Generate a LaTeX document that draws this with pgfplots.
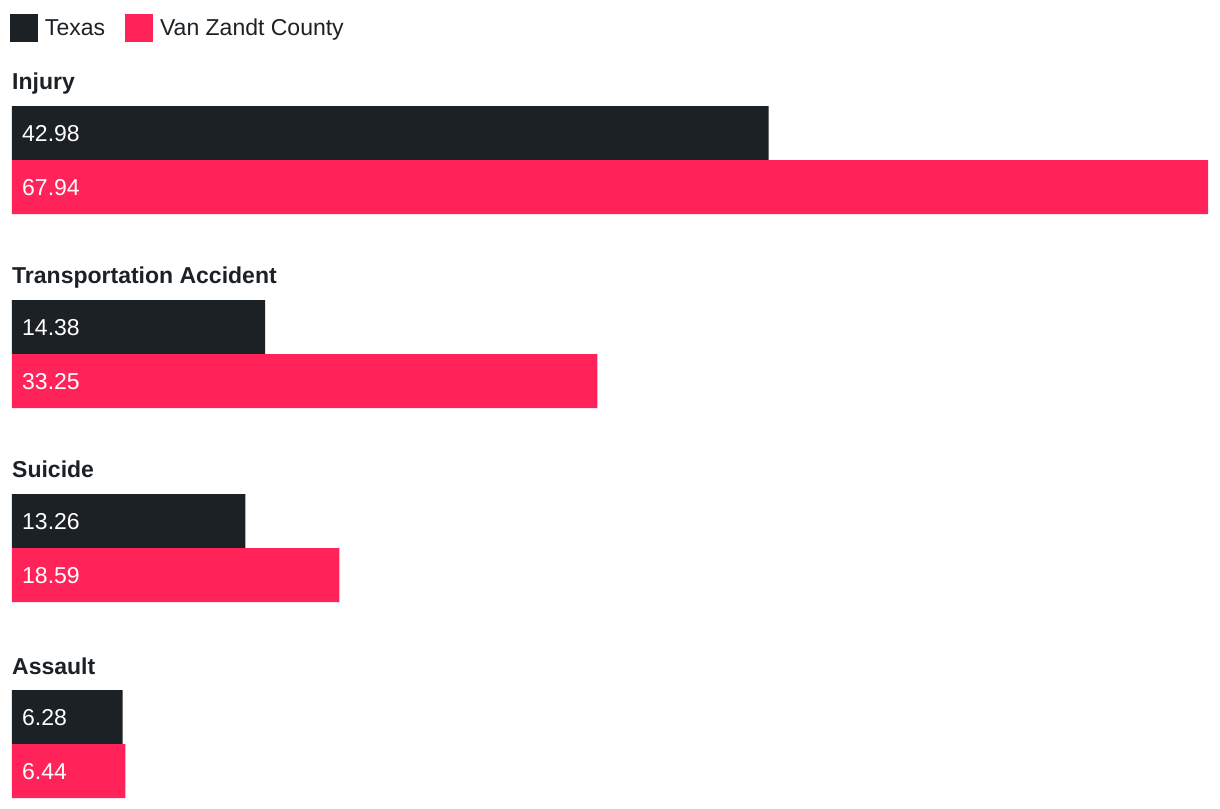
\documentclass[border=0pt]{standalone}
\usepackage{pgfplots}
\pgfplotsset{compat=1.18}
\usepackage{fontspec}
\setmainfont{Liberation Sans}
\definecolor{darkbar}{RGB}{28,33,37}
\definecolor{pinkbar}{RGB}{255,35,90}
\begin{document}
\begin{tikzpicture}
\begin{axis}[
  width=1196pt, height=808pt, scale only axis,
  xmin=0, xmax=67.94, ymin=0, ymax=808, y dir=reverse,
  hide axis, clip=false,
  xbar, bar width=54, bar shift=0pt,
  legend columns=2,
  legend cell align=left,
  legend style={draw=none, fill=none, at={(axis cs:0,28)}, anchor=west, xshift=-2pt,
    font=\fontsize{23}{27.6}\selectfont, text=darkbar, inner sep=0pt, outer sep=0pt,
    nodes={inner sep=0pt},
    /tikz/every odd column/.style={column sep=7pt},
    /tikz/every even column/.style={column sep=20pt}},
  legend image code/.code={\fill[#1] (0pt,-14pt) rectangle (28pt,14pt);},
]
\addplot[fill=darkbar, draw=none] coordinates {(42.98,133) (14.38,327) (13.26,521) (6.28,717)};
\addlegendentry{Texas}
\addplot[fill=pinkbar, draw=none] coordinates {(67.94,187) (33.25,381) (18.59,575) (6.44,771)};
\addlegendentry{Van Zandt County}

\begin{scope}[every node/.style={inner sep=0pt, font=\fontsize{23}{27.6}\selectfont}]
\node[anchor=base west, text=darkbar, font=\fontsize{23}{27.6}\selectfont\bfseries] at (axis cs:0,89.3) {Injury};
\node[anchor=base west, text=darkbar, font=\fontsize{23}{27.6}\selectfont\bfseries] at (axis cs:0,283.3) {Transportation Accident};
\node[anchor=base west, text=darkbar, font=\fontsize{23}{27.6}\selectfont\bfseries] at (axis cs:0,477.3) {Suicide};
\node[anchor=base west, text=darkbar, font=\fontsize{23}{27.6}\selectfont\bfseries] at (axis cs:0,674.3) {Assault};

\node[anchor=base west, text=white, xshift=10pt] at (axis cs:0,141.5) {42.98};
\node[anchor=base west, text=white, xshift=10pt] at (axis cs:0,195.5) {67.94};
\node[anchor=base west, text=white, xshift=10pt] at (axis cs:0,335.5) {14.38};
\node[anchor=base west, text=white, xshift=10pt] at (axis cs:0,389.5) {33.25};
\node[anchor=base west, text=white, xshift=10pt] at (axis cs:0,529.5) {13.26};
\node[anchor=base west, text=white, xshift=10pt] at (axis cs:0,583.5) {18.59};
\node[anchor=base west, text=white, xshift=10pt] at (axis cs:0,725.5) {6.28};
\node[anchor=base west, text=white, xshift=10pt] at (axis cs:0,779.5) {6.44};
\end{scope}
\end{axis}
\pgfresetboundingbox
\path (-12pt,0pt) rectangle (1208pt,808pt);
\end{tikzpicture}
\end{document}
